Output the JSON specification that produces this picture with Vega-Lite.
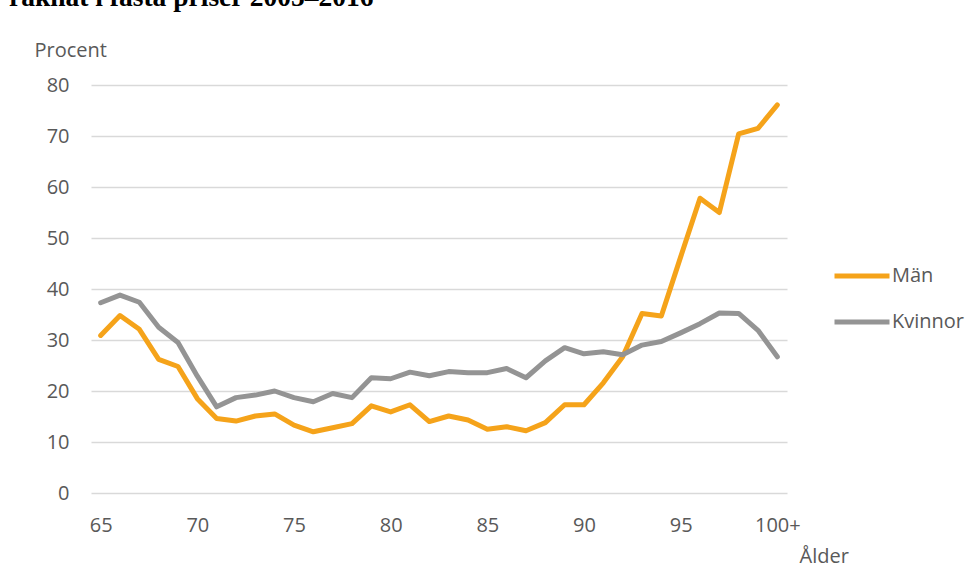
{
  "$schema": "https://vega.github.io/schema/vega-lite/v6.json",
  "width": 696,
  "height": 408,
  "autosize": {"type": "none"},
  "padding": {"left": 91, "top": 85, "right": 192, "bottom": 85},
  "background": "white",
  "title": {
    "text": "räknat i fasta priser 2005–2016",
    "anchor": "start",
    "frame": "group",
    "font": "Liberation Serif",
    "fontWeight": "bold",
    "fontSize": 27.5,
    "color": "black",
    "baseline": "alphabetic",
    "offset": 0,
    "dx": -82,
    "dy": -7
  },
  "config": {
    "font": "Open Sans",
    "view": {"stroke": null}
  },
  "data": {
    "values": [
      {"alder": "65", "kon": "Män", "procent": 30.9},
      {"alder": "66", "kon": "Män", "procent": 34.8},
      {"alder": "67", "kon": "Män", "procent": 32.1},
      {"alder": "68", "kon": "Män", "procent": 26.2},
      {"alder": "69", "kon": "Män", "procent": 24.8},
      {"alder": "70", "kon": "Män", "procent": 18.5},
      {"alder": "71", "kon": "Män", "procent": 14.6},
      {"alder": "72", "kon": "Män", "procent": 14.1},
      {"alder": "73", "kon": "Män", "procent": 15.1},
      {"alder": "74", "kon": "Män", "procent": 15.5},
      {"alder": "75", "kon": "Män", "procent": 13.3},
      {"alder": "76", "kon": "Män", "procent": 12.0},
      {"alder": "77", "kon": "Män", "procent": 12.8},
      {"alder": "78", "kon": "Män", "procent": 13.6},
      {"alder": "79", "kon": "Män", "procent": 17.1},
      {"alder": "80", "kon": "Män", "procent": 15.9},
      {"alder": "81", "kon": "Män", "procent": 17.3},
      {"alder": "82", "kon": "Män", "procent": 14.0},
      {"alder": "83", "kon": "Män", "procent": 15.1},
      {"alder": "84", "kon": "Män", "procent": 14.3},
      {"alder": "85", "kon": "Män", "procent": 12.5},
      {"alder": "86", "kon": "Män", "procent": 13.0},
      {"alder": "87", "kon": "Män", "procent": 12.2},
      {"alder": "88", "kon": "Män", "procent": 13.8},
      {"alder": "89", "kon": "Män", "procent": 17.3},
      {"alder": "90", "kon": "Män", "procent": 17.3},
      {"alder": "91", "kon": "Män", "procent": 21.6},
      {"alder": "92", "kon": "Män", "procent": 26.7},
      {"alder": "93", "kon": "Män", "procent": 35.2},
      {"alder": "94", "kon": "Män", "procent": 34.7},
      {"alder": "95", "kon": "Män", "procent": 46.3},
      {"alder": "96", "kon": "Män", "procent": 57.8},
      {"alder": "97", "kon": "Män", "procent": 55.0},
      {"alder": "98", "kon": "Män", "procent": 70.4},
      {"alder": "99", "kon": "Män", "procent": 71.5},
      {"alder": "100+", "kon": "Män", "procent": 76.1},
      {"alder": "65", "kon": "Kvinnor", "procent": 37.3},
      {"alder": "66", "kon": "Kvinnor", "procent": 38.8},
      {"alder": "67", "kon": "Kvinnor", "procent": 37.4},
      {"alder": "68", "kon": "Kvinnor", "procent": 32.5},
      {"alder": "69", "kon": "Kvinnor", "procent": 29.5},
      {"alder": "70", "kon": "Kvinnor", "procent": 22.9},
      {"alder": "71", "kon": "Kvinnor", "procent": 16.9},
      {"alder": "72", "kon": "Kvinnor", "procent": 18.7},
      {"alder": "73", "kon": "Kvinnor", "procent": 19.2},
      {"alder": "74", "kon": "Kvinnor", "procent": 20.0},
      {"alder": "75", "kon": "Kvinnor", "procent": 18.7},
      {"alder": "76", "kon": "Kvinnor", "procent": 17.9},
      {"alder": "77", "kon": "Kvinnor", "procent": 19.5},
      {"alder": "78", "kon": "Kvinnor", "procent": 18.7},
      {"alder": "79", "kon": "Kvinnor", "procent": 22.6},
      {"alder": "80", "kon": "Kvinnor", "procent": 22.4},
      {"alder": "81", "kon": "Kvinnor", "procent": 23.7},
      {"alder": "82", "kon": "Kvinnor", "procent": 23.0},
      {"alder": "83", "kon": "Kvinnor", "procent": 23.8},
      {"alder": "84", "kon": "Kvinnor", "procent": 23.6},
      {"alder": "85", "kon": "Kvinnor", "procent": 23.6},
      {"alder": "86", "kon": "Kvinnor", "procent": 24.4},
      {"alder": "87", "kon": "Kvinnor", "procent": 22.6},
      {"alder": "88", "kon": "Kvinnor", "procent": 25.9},
      {"alder": "89", "kon": "Kvinnor", "procent": 28.5},
      {"alder": "90", "kon": "Kvinnor", "procent": 27.3},
      {"alder": "91", "kon": "Kvinnor", "procent": 27.7},
      {"alder": "92", "kon": "Kvinnor", "procent": 27.1},
      {"alder": "93", "kon": "Kvinnor", "procent": 29.0},
      {"alder": "94", "kon": "Kvinnor", "procent": 29.7},
      {"alder": "95", "kon": "Kvinnor", "procent": 31.4},
      {"alder": "96", "kon": "Kvinnor", "procent": 33.2},
      {"alder": "97", "kon": "Kvinnor", "procent": 35.3},
      {"alder": "98", "kon": "Kvinnor", "procent": 35.2},
      {"alder": "99", "kon": "Kvinnor", "procent": 31.9},
      {"alder": "100+", "kon": "Kvinnor", "procent": 26.7}
    ]
  },
  "mark": {"type": "line", "strokeWidth": 5, "strokeJoin": "round", "strokeCap": "round"},
  "encoding": {
    "x": {
      "field": "alder",
      "type": "ordinal",
      "sort": null,
      "scale": {"type": "point", "padding": 0.5},
      "axis": {
        "title": "Ålder",
        "values": ["65", "70", "75", "80", "85", "90", "95", "100+"],
        "labelAngle": 0,
        "labelFontSize": 20,
        "labelColor": "#595959",
        "labelPadding": 22,
        "ticks": false,
        "domain": false,
        "grid": false,
        "titleFontSize": 20,
        "titleFontWeight": "normal",
        "titleColor": "#595959",
        "titleAlign": "left",
        "titleBaseline": "alphabetic",
        "titleAnchor": null,
        "titleX": 708,
        "titleY": 69
      }
    },
    "y": {
      "field": "procent",
      "type": "quantitative",
      "scale": {"domain": [0, 80], "nice": false},
      "axis": {
        "title": "Procent",
        "values": [0, 10, 20, 30, 40, 50, 60, 70, 80],
        "labelFontSize": 20,
        "labelColor": "#595959",
        "labelPadding": 22,
        "ticks": false,
        "domain": false,
        "grid": true,
        "gridColor": "#d9d9d9",
        "gridWidth": 1.5,
        "titleFontSize": 20,
        "titleFontWeight": "normal",
        "titleColor": "#595959",
        "titleAngle": 0,
        "titleAlign": "left",
        "titleBaseline": "alphabetic",
        "titleAnchor": null,
        "titleX": -57,
        "titleY": -29
      }
    },
    "color": {
      "field": "kon",
      "type": "nominal",
      "sort": ["Män", "Kvinnor"],
      "scale": {"domain": ["Män", "Kvinnor"], "range": ["#F5A31A", "#949494"]},
      "legend": {
        "title": null,
        "orient": "none",
        "legendX": 741,
        "legendY": 161,
        "symbolType": "stroke",
        "symbolSize": 3025,
        "symbolStrokeWidth": 5,
        "labelFontSize": 20,
        "labelColor": "#595959",
        "labelOffset": 0,
        "rowPadding": 6
      }
    }
  }
}
